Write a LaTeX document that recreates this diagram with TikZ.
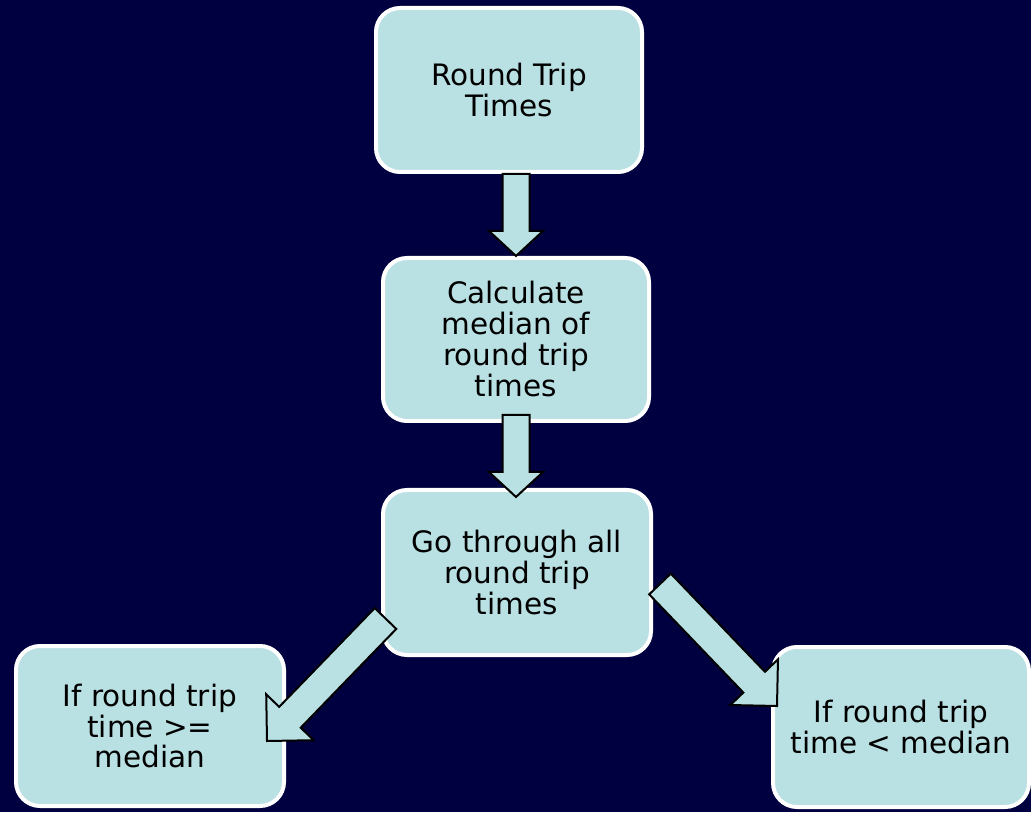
\documentclass[tikz,border=0pt]{standalone}
\usepackage{fontspec}
\setmainfont{DejaVu Sans}
\usepackage{tikz}
\usetikzlibrary{calc,positioning}

\definecolor{navybg}{RGB}{0,0,64}
\definecolor{boxblue}{RGB}{185,224,227}

\tikzset{
  stepbox/.style={draw=white, line width=4pt, fill=boxblue, rounded corners=24pt,
    minimum width=266pt, minimum height=164pt, align=center, inner sep=0pt,
    font=\fontsize{29.5}{31}\selectfont},
  blockarr/.style={draw=black, line width=2pt, fill=boxblue, line join=miter}
}

% block arrow: from, to, half shaft width, half head width, head length
\newcommand{\blockarrow}[5]{%
  \draw[blockarr] let \p1=(#1), \p2=(#2),
      \n1={atan2(\y2-\y1,\x2-\x1)}, \n2={veclen(\x2-\x1,\y2-\y1)-#5} in
    (\p1) ++(\n1+90:#3) -- ++(\n1:\n2) -- ++(\n1+90:#4-#3) -- (\p2)
    -- ($(\p2)+(\n1+180:#5)+(\n1-90:#4)$) -- ++(\n1+90:#4-#3)
    -- ++(\n1+180:\n2) -- cycle;
}

\begin{document}
\begin{tikzpicture}[x=1pt,y=1pt]
\fill[navybg] (0,0) rectangle (1031,812);
\useasboundingbox (0,0) rectangle (1031,812);

\node[stepbox] (rtt) at (509,722) {Round Trip\\Times};
\node[stepbox, minimum height=163pt] (calc) at (516,472.5)
  {Calculate\\median of\\round trip\\times};
\node[stepbox, minimum width=268pt, minimum height=165pt] (gothru) at (517,239.5)
  {Go through all\\round trip\\times};
\node[stepbox, minimum width=268pt, minimum height=160pt] (ifge) at (150,86)
  {If round trip\\time >=\\median};
\node[stepbox, minimum width=256pt, minimum height=160pt] (iflt) at (901,85)
  {If round trip\\time < median};

\coordinate (lstart) at ($(gothru.west)+(4.5,-46)$);
\coordinate (ltip) at ($(ifge.east)+(-19,-15)$);
\coordinate (rstart) at ($(gothru.east)+(7,-11.5)$);
\coordinate (rtip) at ($(iflt.west)+(6,21)$);

\blockarrow{calc.north |- rtt.south}{calc.north}{13.5}{27}{25}
\blockarrow{$(calc.south)+(0,8)$}{$(calc.south |- gothru.north)+(0,-9)$}{13.5}{27}{25}
\blockarrow{lstart}{ltip}{15}{33}{33}
\blockarrow{rstart}{rtip}{15}{33}{33}

\end{tikzpicture}
\end{document}
